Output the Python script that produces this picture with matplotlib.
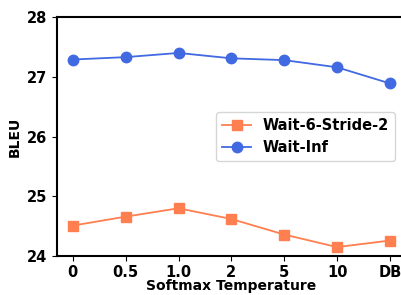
import matplotlib
matplotlib.use("Agg")
import matplotlib.pyplot as plt

temps = ["0", "0.5", "1.0", "2", "5", "10", "DB"]
wait6_stride2 = [24.51, 24.66, 24.80, 24.62, 24.36, 24.15, 24.26]
wait_inf = [27.29, 27.33, 27.40, 27.31, 27.28, 27.16, 26.89]

fig = plt.figure(figsize=(4.01, 2.95), dpi=100)
ax = fig.add_axes([0.142, 0.132, 0.87, 0.81])

x = range(len(temps))
ax.plot(x, wait6_stride2, marker="s", markersize=7.5, linewidth=1.3, color="#ff7f50", label="Wait-6-Stride-2")
ax.plot(x, wait_inf, marker="o", markersize=7.5, linewidth=1.3, color="#4169e1", label="Wait-Inf")

ax.set_xticks(list(x))
ax.set_xticklabels(temps, fontsize=10.5, fontweight="bold")
ax.set_yticks([24, 25, 26, 27, 28])
ax.set_yticklabels(["24", "25", "26", "27", "28"], fontsize=10.5, fontweight="bold")
ax.tick_params(axis="x", pad=3)
ax.set_xlim(-0.3, 6.3)
ax.set_ylim(24, 28)
ax.set_xlabel("Softmax Temperature", fontsize=10, fontweight="bold")
ax.xaxis.set_label_coords(0.5, -0.098)
ax.set_ylabel("BLEU", fontsize=10, fontweight="bold")
ax.spines["left"].set_linewidth(1.5)
ax.spines["bottom"].set_linewidth(1.5)
ax.spines["top"].set_linewidth(1.5)
ax.spines["right"].set_visible(False)
ax.legend(loc="center right", bbox_to_anchor=(0.99, 0.5), prop={"weight": "bold", "size": 10.5})

fig.savefig("out.png", dpi=100)
